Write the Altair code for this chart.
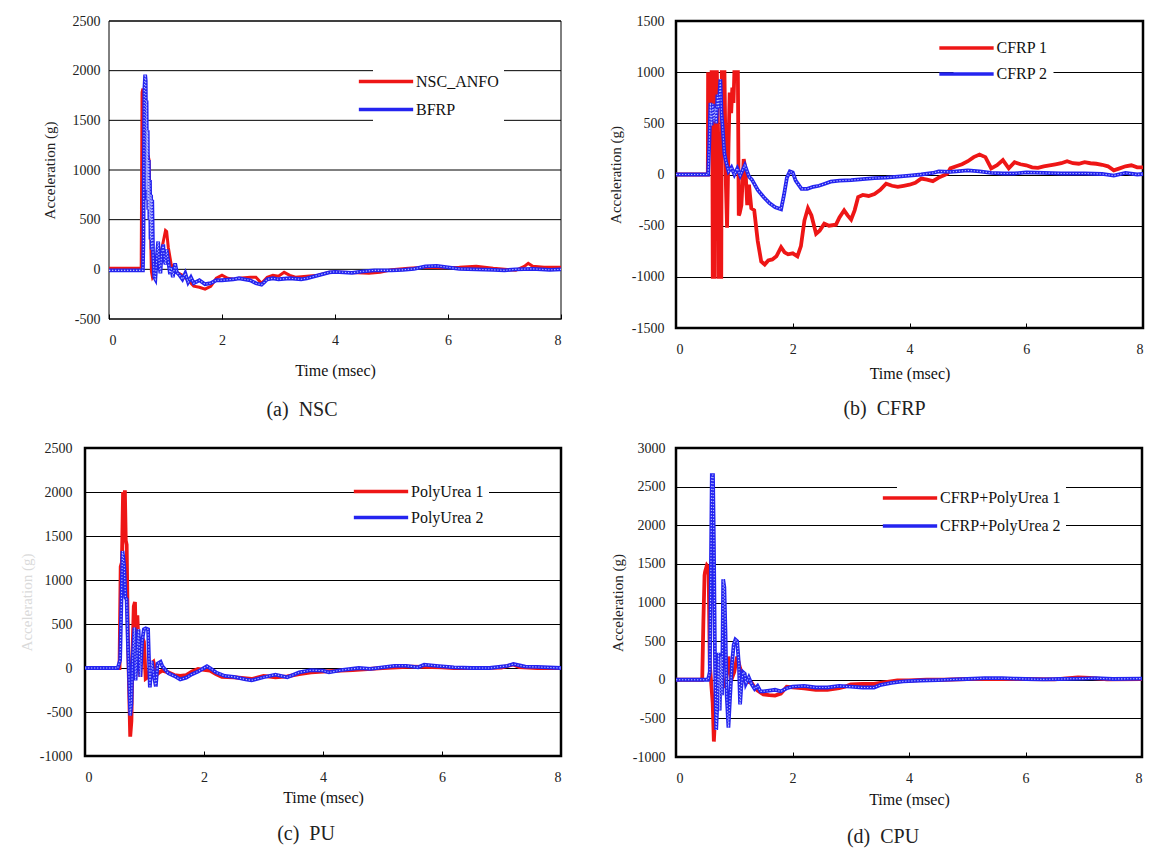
import altair as alt
import pandas as pd

FONT = "Liberation Serif"
RED = "#ee1616"
BLUE = "#2424f0"
DOT = "#b9bfff"

# ---------------- (a) NSC ----------------
a_names = ["NSC_ANFO", "BFRP"]
a_t1 = [0, 0.57, 0.575, 0.585, 0.6, 0.62, 0.64, 0.66, 0.69, 0.71, 0.73, 0.75, 0.77, 0.8, 0.85, 0.9, 0.95,
        1.0, 1.02, 1.05, 1.1, 1.2, 1.3, 1.4, 1.5, 1.6, 1.7, 1.8, 1.9, 2.0, 2.1, 2.2, 2.3, 2.5, 2.6, 2.7, 2.8,
        2.9, 3.0, 3.1, 3.2, 3.3, 3.5, 3.7, 3.9, 4.1, 4.4, 4.6, 4.8, 5.0, 5.3, 5.6, 5.9, 6.2, 6.5, 6.8, 7.0,
        7.2, 7.35, 7.42, 7.5, 7.7, 8.0]
a_v1 = [10, 10, 600, 1780, 1820, 1500, 1000, 700, 1150, 1100, 600, -20, -80, -50, 50, 120, 250,
        390, 380, 220, 50, -30, -60, -110, -170, -180, -200, -170, -90, -60, -90, -100, -90, -80, -80, -140, -80,
        -60, -70, -30, -60, -80, -70, -60, -30, -30, -35, -40, -30, -5, 10, 20, 15, 20, 30, 10, 0,
        -10, 30, 60, 30, 20, 20]
a_t2 = [0, 0.6, 0.61, 0.625, 0.64, 0.65, 0.66, 0.665, 0.675, 0.685, 0.695, 0.705, 0.715, 0.725, 0.735, 0.745,
        0.755, 0.765, 0.78, 0.8, 0.82, 0.85, 0.87, 0.89, 0.91, 0.93, 0.96, 0.98, 1.0, 1.02, 1.05, 1.08, 1.1,
        1.13, 1.17, 1.2, 1.25, 1.3, 1.35, 1.4, 1.45, 1.5, 1.6, 1.7, 1.8, 1.9, 2.0, 2.2, 2.3, 2.4, 2.5, 2.6,
        2.7, 2.75, 2.8, 2.9, 3.0, 3.2, 3.4, 3.5, 3.7, 3.9, 4.0, 4.3, 4.5, 4.7, 5.0, 5.2, 5.4, 5.6, 5.8, 6.0,
        6.2, 6.5, 6.8, 7.0, 7.2, 7.5, 7.8, 8.0]
a_v2 = [-10, -10, 300, 1800, 1960, 1900, 800, 1700, 700, 1400, 600, 1100, 500, 900, 300, 750,
        200, 700, 150, -80, -100, 150, 280, 50, -40, 150, 250, 100, 50, 200, 80, -50, 20,
        -80, 60, -30, -60, -100, -40, -130, -80, -140, -110, -150, -140, -110, -110, -100, -90, -100, -110, -140,
        -155, -130, -100, -90, -100, -90, -100, -90, -60, -30, -25, -35, -20, -10, -10, -5, 5, 30, 35, 20,
        5, 0, -5, -10, 0, 5, -5, 0]

# ---------------- (b) CFRP ----------------
b_names = ["CFRP 1", "CFRP 2"]
b_t1 = [0, 0.545, 0.55, 0.565, 0.58, 0.595, 0.61, 0.62, 0.63, 0.66,
        0.67, 0.70, 0.72, 0.73, 0.775, 0.785, 0.83, 0.855, 0.875, 0.9,
        0.92, 0.945, 0.965, 0.985, 1.0, 1.06, 1.075, 1.09, 1.12, 1.16,
        1.19, 1.22, 1.25, 1.29, 1.34, 1.4, 1.46, 1.52, 1.58, 1.65,
        1.72, 1.8, 1.86, 1.92, 2.0, 2.08, 2.14, 2.2, 2.26, 2.32,
        2.4, 2.46, 2.54, 2.62, 2.74, 2.8, 2.88, 2.94, 3.0, 3.06,
        3.12, 3.2, 3.3, 3.4, 3.5, 3.6, 3.7, 3.8, 3.9, 4.0,
        4.1, 4.2, 4.3, 4.4, 4.5, 4.6, 4.65, 4.7, 4.8, 4.9,
        5.0, 5.1, 5.2, 5.3, 5.4, 5.5, 5.6, 5.7, 5.8, 5.9,
        6.0, 6.1, 6.2, 6.3, 6.4, 6.5, 6.6, 6.7, 6.8, 6.9,
        7.0, 7.1, 7.2, 7.3, 7.4, 7.5, 7.6, 7.7, 7.8, 7.9, 8.0]
b_v1 = [0, 0, 1000, 450, 1000, 500, 1000, 1000, -1000, -1000,
        1000, 1000, 300, -1000, -1000, 1000, 1000, -100, -520, 300,
        800, 600, 850, 700, 1000, 1000, -400, -380, -300, 150,
        50, -300, -100, -330, -350, -650, -850, -880, -840, -830,
        -800, -710, -760, -780, -770, -800, -700, -450, -330, -400,
        -580, -550, -480, -500, -490, -420, -350, -400, -440, -350,
        -220, -200, -210, -190, -150, -90, -110, -120, -110, -100,
        -80, -40, -50, -65, -30, -5, 10, 60, 80, 100,
        130, 170, 195, 170, 60, 90, 140, 60, 120, 100,
        90, 70, 65, 80, 90, 100, 110, 130, 110, 105,
        120, 110, 105, 95, 80, 40, 60, 80, 90, 70, 70]
b_t2 = [0, 0.55, 0.57, 0.59, 0.61, 0.63, 0.65, 0.67, 0.69, 0.71,
        0.73, 0.76, 0.78, 0.8, 0.83, 0.86, 0.9, 0.95, 1.0, 1.05,
        1.1, 1.18, 1.25, 1.3, 1.4, 1.5, 1.6, 1.7, 1.8, 1.85,
        1.9, 1.95, 2.0, 2.05, 2.15, 2.25, 2.35, 2.45, 2.55, 2.65,
        2.8, 3.0, 3.2, 3.4, 3.6, 3.8, 4.0, 4.2, 4.4, 4.5,
        4.7, 4.9, 5.0, 5.2, 5.4, 5.6, 5.8, 6.0, 6.3, 6.6,
        7.0, 7.3, 7.5, 7.7, 7.9, 8.0]
b_v2 = [0, 0, 300, 700, 480, 690, 520, 650, 500, 780,
        650, 930, 600, 450, 200, 120, 30, 70, 0, 60,
        -10, 90, -20, -50, -150, -220, -280, -320, -340, -200,
        -30, 30, 20, -60, -140, -140, -120, -110, -90, -70,
        -60, -55, -45, -35, -30, -20, -10, 0, 15, 30,
        25, 35, 40, 30, 15, 10, 10, 20, 15, 10,
        10, 5, -10, 15, 0, 5]

# ---------------- (c) PU ----------------
c_names = ["PolyUrea 1", "PolyUrea 2"]
c_t1 = [0, 0.58, 0.6, 0.62, 0.64, 0.655, 0.67, 0.685, 0.7, 0.72,
        0.74, 0.76, 0.78, 0.8, 0.82, 0.84, 0.86, 0.88, 0.9, 0.93,
        0.96, 0.99, 1.02, 1.06, 1.1, 1.15, 1.2, 1.25, 1.3, 1.4,
        1.5, 1.6, 1.7, 1.8, 1.9, 2.0, 2.1, 2.2, 2.3, 2.5,
        2.8, 3.0, 3.2, 3.4, 3.6, 3.8, 4.0, 4.3, 4.5, 5.0,
        5.5, 6.0, 6.2, 6.6, 7.0, 7.2, 7.3, 7.6, 8.0]
c_v1 = [0, 0, 1150, 1200, 2000, 1600, 2020, 1450, 1400, 400,
        -200, -780, -600, 200, 700, 750, 100, 600, 250, -100,
        350, 300, -120, -100, 40, 70, -80, -50, -30, -50,
        -80, -90, -80, -40, -10, -20, -30, -70, -100, -105,
        -125, -90, -105, -95, -70, -50, -40, -30, -25, 0,
        15, 8, 0, 0, 5, 40, 10, 0, 0]
c_t2 = [0, 0.55, 0.59, 0.61, 0.63, 0.645, 0.66, 0.68, 0.7, 0.72,
        0.74, 0.76, 0.78, 0.8, 0.83, 0.85, 0.87, 0.9, 0.93, 0.96,
        0.99, 1.02, 1.06, 1.09, 1.12, 1.15, 1.19, 1.22, 1.27, 1.3,
        1.35, 1.4, 1.5, 1.6, 1.7, 1.8, 1.9, 2.0, 2.05, 2.1,
        2.2, 2.35, 2.5, 2.7, 2.8, 3.0, 3.2, 3.4, 3.6, 3.8,
        4.0, 4.1, 4.3, 4.6, 4.8, 5.0, 5.2, 5.4, 5.6, 5.7,
        5.9, 6.2, 6.5, 6.8, 7.1, 7.2, 7.4, 7.6, 8.0]
c_v2 = [0, 0, 90, 700, 1330, 1250, 1150, 800, 780, 300,
        -100, -540, -400, 100, 460, -140, 100, 440, -100, 300,
        440, 450, 440, -220, 80, -60, -210, 50, 70, 20,
        -20, -60, -90, -130, -110, -70, -40, 0, 20, 0,
        -50, -90, -100, -130, -140, -105, -75, -105, -50, -25,
        -30, -50, -25, 0, -10, 8, 25, 25, 8, 38,
        25, 8, 0, 0, 25, 45, 15, 12, 0]

# ---------------- (d) CPU ----------------
d_names = ["CFRP+PolyUrea 1", "CFRP+PolyUrea 2"]
d_t1 = [0, 0.45, 0.47, 0.49, 0.5, 0.53, 0.56, 0.58, 0.6, 0.63,
        0.65, 0.67, 0.7, 0.75, 0.8, 0.85, 0.9, 0.95, 1.0, 1.05,
        1.1, 1.15, 1.2, 1.3, 1.35, 1.4, 1.5, 1.6, 1.7, 1.8,
        1.9, 2.0, 2.2, 2.4, 2.6, 2.8, 2.9, 3.0, 3.2, 3.4,
        3.6, 3.8, 4.0, 4.3, 4.6, 5.0, 5.5, 6.0, 6.5, 6.9, 7.1, 7.4, 8.0]
d_v1 = [0, 0, 750, 1350, 1400, 1480, 1450, 200, 0, -300,
        -800, -500, 100, 200, 0, -100, 300, 0, 100, 300,
        150, 50, -20, -40, -100, -140, -190, -200, -205, -180,
        -90, -100, -110, -130, -130, -110, -90, -60, -55, -55,
        -30, -10, -10, 0, 0, 10, 10, 10, 5, 30, 25, 5, 10]
d_t2 = [0, 0.55, 0.58, 0.6, 0.615, 0.635, 0.65, 0.67, 0.69, 0.71,
        0.73, 0.75, 0.77, 0.79, 0.81, 0.83, 0.85, 0.87, 0.9, 0.93,
        0.96, 0.99, 1.02, 1.05, 1.08, 1.1, 1.12, 1.15, 1.18, 1.2,
        1.25, 1.3, 1.35, 1.4, 1.45, 1.5, 1.6, 1.7, 1.8, 1.9,
        2.0, 2.2, 2.4, 2.6, 2.8, 3.0, 3.2, 3.4, 3.5, 3.7,
        3.9, 4.2, 4.5, 4.8, 5.0, 5.3, 5.6, 5.8, 6.0, 6.3,
        6.6, 7.0, 7.2, 7.5, 8.0]
d_v2 = [0, 0, 100, 1500, 2650, 2650, 1800, 200, -650, -300,
        350, -400, 300, -200, 1300, 1200, 600, -200, -620, -200,
        200, 450, 520, 500, 200, -320, -100, 100, 80, -50,
        30, -60, -120, -80, -150, -150, -140, -130, -150, -110,
        -90, -80, -100, -100, -80, -90, -100, -100, -70, -40,
        -20, -10, -5, 5, 10, 20, 20, 15, 10, 5,
        10, 15, 20, 10, 15]

x_ticks = [0, 2, 4, 6, 8]
x_domain = [0, 8]


def panel(t1, v1, t2, v2, names, ymin, ymax, width, height, border, caption, cap_dx, cap_off,
          xt_pad, ylab_pad, lx, ly, rowpad, ytitle_color, ytitle_x, red_w, inset=0):
    df = pd.concat([
        pd.DataFrame({"t": t1, "v": v1, "s": names[0]}),
        pd.DataFrame({"t": t2, "v": v2, "s": names[1]}),
    ], ignore_index=True)
    yvals = list(range(ymin, ymax + 1, 500))
    if inset:
        xs = alt.Scale(domain=x_domain, range=[inset, width], nice=False)
    else:
        xs = alt.Scale(domain=x_domain, nice=False)
    ys = alt.Scale(domain=[ymin, ymax], nice=False, zero=False)
    xaxis = alt.Axis(values=x_ticks, title="Time (msec)", grid=False, domain=False,
                     ticks=True, tickSize=5, tickColor="black", tickWidth=1, offset=-5,
                     labelPadding=14.2, labelExpr="'' + datum.value", labelFont=FONT,
                     labelFontSize=14, labelColor="#222", titleFont=FONT, titleFontSize=16,
                     titleFontWeight="normal", titleColor="#111", titlePadding=xt_pad)
    yaxis = alt.Axis(values=yvals, title="Acceleration (g)", grid=not inset,
                     gridColor="black", gridWidth=1, gridOpacity=1, domain=False, ticks=False,
                     offset=-inset,
                     labelPadding=ylab_pad, labelExpr="'' + datum.value", labelFont=FONT,
                     labelFontSize=14, labelColor="#222", titleFont=FONT, titleFontSize=15,
                     titleFontWeight="normal", titleColor=ytitle_color, titleX=ytitle_x)
    X = alt.X("t:Q", scale=xs, axis=xaxis)
    Y = alt.Y("v:Q", scale=ys, axis=yaxis)
    color = alt.Color("s:N", scale=alt.Scale(domain=names, range=[RED, BLUE]),
                      legend=alt.Legend(title=None, orient="none", legendX=lx, legendY=ly,
                                        direction="vertical", fillColor="white", padding=5,
                                        symbolType="M-5,0L5,0", symbolSize=118,
                                        symbolStrokeWidth=3.5, labelOffset=22, labelFont=FONT,
                                        labelFontSize=16, labelColor="#111", rowPadding=rowpad))
    base = alt.Chart(df)
    layers = []
    if inset:
        grid_df = pd.DataFrame({"g": yvals})
        layers.append(alt.Chart(grid_df).mark_rule(color="black", strokeWidth=1).encode(
            y=alt.Y("g:Q", scale=ys, axis=yaxis), x=alt.datum(x_domain[0]), x2=alt.datum(x_domain[1])))
        frame_df = pd.DataFrame({"x0": [x_domain[0]], "x1": [x_domain[1]], "y0": [ymin], "y1": [ymax]})
        layers.append(alt.Chart(frame_df).mark_rect(fillOpacity=0, stroke="black", strokeWidth=border).encode(
            x=alt.X("x0:Q", scale=xs, axis=xaxis), x2="x1:Q", y=alt.Y("y0:Q", scale=ys, axis=yaxis), y2="y1:Q"))
    red = base.transform_filter(alt.datum.s == names[0]).mark_line(strokeWidth=red_w).encode(
        x=X, y=Y, color=color)
    blue = base.transform_filter(alt.datum.s == names[1]).mark_line(strokeWidth=3.8).encode(
        x=X, y=Y, color=color)
    dots = base.transform_filter(alt.datum.s == names[1]).mark_line(
        strokeWidth=1.1, strokeDash=[1.3, 1.7], color=DOT).encode(x=X, y=Y)
    layers += [red, blue, dots]
    view = alt.ViewBackground(strokeOpacity=0) if inset else alt.ViewBackground(stroke="black", strokeWidth=border)
    return alt.layer(*layers).properties(
        width=width, height=height, view=view,
        title=alt.TitleParams(text=caption, orient="bottom", anchor="middle", frame="group",
                              dx=cap_dx, offset=cap_off, font=FONT, fontSize=20,
                              fontWeight="normal", color="#222"))


pa = panel(a_t1, a_v1, a_t2, a_v2, a_names, -500, 2500, 476, 298, 1, "(a)\u00a0\u00a0NSC", -21, 20.7,
           15.7, 9, 288, 47.5, 12, "#222", -51.6, 3.0, inset=24)
pb = panel(b_t1, b_v1, b_t2, b_v2, b_names, -1500, 1500, 467, 307, 2.5, "(b)\u00a0\u00a0CFRP", -25, 17.4,
           8.9, 12, 277.5, 14, 10, "#222", -52.5, 3.8)
pc = panel(c_t1, c_v1, c_t2, c_v2, c_names, -1000, 2500, 476, 308, 2.5, "(c)\u00a0\u00a0PU", -17, 18.6,
           5.3, 13, 283, 30.5, 10, "#dadada", -51, 3.8)
pd_ = panel(d_t1, d_v1, d_t2, d_v2, d_names, -1000, 3000, 466, 309, 2.5, "(d)\u00a0\u00a0CPU", -26, 18.6,
            6.7, 11, 221, 37, 12, "#222", -50.5, 3.8)

chart = alt.concat(
    pa, pb, pc, pd_, columns=2, spacing={"row": 19, "column": 37}
).resolve_scale(
    color="independent", x="independent", y="independent"
).properties(
    padding={"left": 9, "top": 4, "right": 5, "bottom": 5},
    background="white",
).configure_axis(
    labelFont=FONT, titleFont=FONT, labelFontSize=14, titleFontWeight="normal"
).configure_axisX(titleFontSize=16).configure_axisY(titleFontSize=15).configure_legend(
    labelFont=FONT, labelFontSize=16
).configure_title(font=FONT)

chart.save("out.html", embed_options={"renderer": "svg", "actions": False})
